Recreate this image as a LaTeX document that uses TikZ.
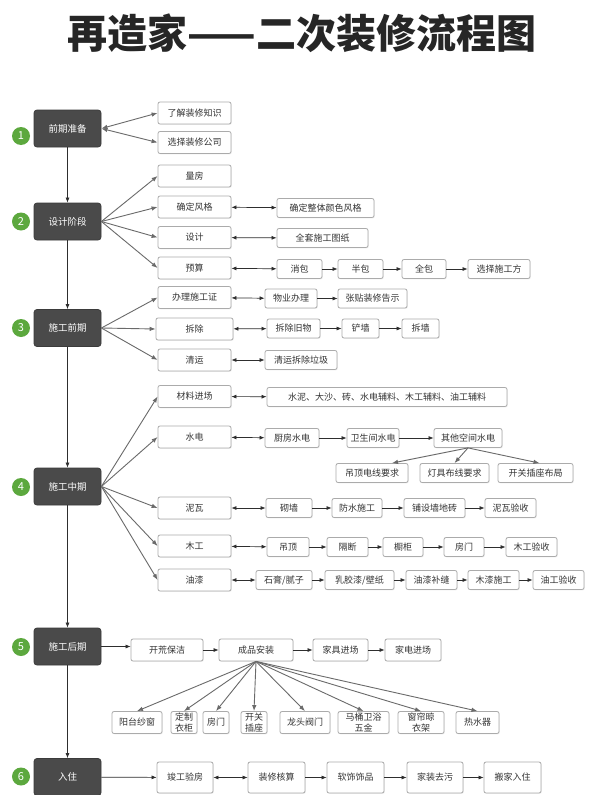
\documentclass[tikz,border=0pt]{standalone}
\usepackage{fontspec}
\setmainfont{Noto Sans CJK SC}
\usetikzlibrary{arrows.meta, calc, shadows}
\definecolor{cdark}{HTML}{4A4A4A}
\definecolor{cgreen}{HTML}{5CA83E}
\definecolor{cgrey}{HTML}{ABABAB}
\definecolor{cline}{HTML}{2E2E2E}
\definecolor{cfan}{HTML}{6A6A6A}
\definecolor{ctext}{HTML}{333333}
\tikzset{
  every picture/.style={line width=0.8pt},
  stage/.style={draw=cdark!80!black, fill=cdark, rounded corners=3pt, text=white, minimum width=67pt, minimum height=37pt, font=\fontsize{9.5}{11}\selectfont},
  num/.style={circle, fill=cgreen, text=white, minimum size=18pt, inner sep=0pt, font=\fontsize{11}{12}\selectfont},
  item/.style={draw=cgrey, fill=white, rounded corners=2pt, align=center, inner sep=1pt, minimum width=#1, minimum height=19pt, text=ctext, font=\fontsize{9}{10.5}\selectfont, drop shadow={opacity=0.12, shadow xshift=0.8pt, shadow yshift=-0.8pt}},
  item/.default=50pt,
  first/.style={item=#1, minimum height=22pt},
  first/.default=73pt,
  arrow/.style={-{Latex[length=5pt, width=4pt]}, draw=cline, line width=0.7pt},
  both/.style={{Latex[length=5pt, width=4pt]}-{Latex[length=5pt, width=4pt]}, draw=cline, line width=0.7pt},
  fan/.style={-{Latex[length=6pt, width=4.5pt]}, draw=cfan, line width=0.9pt},
  title/.style={font=\fontsize{40}{46}\selectfont\bfseries, text=black!85},
}

\begin{document}
\begin{tikzpicture}[x=1pt, y=-1pt]
  \fill[white] (0,0) rectangle (598,795);
  \useasboundingbox (0,0) rectangle (598,795);
  \node[title] (ttl) at (302,33) {再造家——二次装修流程图};
  % stage column on the left
  \node[stage] (s1) at (67.5,128.5) {前期准备};
  \node[stage] (s2) at (67.5,221.5) {设计阶段};
  \node[stage] (s3) at (67.5,328) {施工前期};
  \node[stage] (s4) at (67.5,486.5) {施工中期};
  \node[stage] (s5) at (67.5,646.5) {施工后期};
  \node[stage] (s6) at (67.5,777) {入住};
  \node[num] (n1) at (21,136) {1};
  \node[num] (n2) at (21,221.5) {2};
  \node[num] (n3) at (21,328) {3};
  \node[num] (n4) at (21,487) {4};
  \node[num] (n5) at (21,647) {5};
  \node[num] (n6) at (21,776.5) {6};
  \draw[arrow] (s1) -- (s2);
  \draw[arrow] (s2) -- (s3);
  \draw[arrow] (s3) -- (s4);
  \draw[arrow] (s4) -- (s5);
  \draw[arrow] (s5) -- (s6);
  % 1: preparation
  \node[first] (a1) at (194.5,113) {了解装修知识};
  \node[first] (a2) at (194.5,142.5) {选择装修公司};
  \draw[fan, {Latex[length=6pt, width=4.5pt]}-{Latex[length=6pt, width=4.5pt]}] (s1.east) -- (a1.west);
  \draw[fan, {Latex[length=6pt, width=4.5pt]}-{Latex[length=6pt, width=4.5pt]}] (s1.east) -- (a2.west);
  % 2: design
  \node[first] (b1) at (194.5,176) {量房};
  \node[first] (b2) at (194.5,207) {确定风格};
  \node[first] (b3) at (194.5,237.5) {设计};
  \node[first] (b4) at (194.5,268) {预算};
  \foreach \t in {b1,b2,b3,b4} \draw[fan] (s2.east) -- (\t.west);
  \node[item=97pt] (b2a) at (325.5,208) {确定整体颜色风格};
  \node[item=91pt] (b3a) at (322.5,238) {全套施工图纸};
  \node[item=45pt] (b4a) at (299.5,269) {消包};
  \node[item=45pt] (b4b) at (360.5,269) {半包};
  \node[item=44pt] (b4c) at (424,269) {全包};
  \node[item=62pt] (b4d) at (499,269) {选择施工方};
  \draw[both] (b2) -- (b2a);
  \draw[both] (b3) -- (b3a);
  \draw[both] (b4) -- (b4a);
  \draw[arrow] (b4a) -- (b4b);
  \draw[arrow] (b4b) -- (b4c);
  \draw[arrow] (b4c) -- (b4d);
  % 3: before building
  \node[first] (c1) at (194.5,297.5) {办理施工证};
  \node[first=77pt] (c2) at (194.5,329) {拆除};
  \node[first] (c3) at (194.5,360) {清运};
  \foreach \t in {c1,c2,c3} \draw[fan] (s3.east) -- (\t.west);
  \node[item=52pt] (c1a) at (291,298.5) {物业办理};
  \node[item=69pt] (c1b) at (372.5,298.5) {张贴装修告示};
  \node[item=53pt] (c2a) at (293.5,328.5) {拆除旧物};
  \node[item=37pt] (c2b) at (360.5,328.5) {铲墙};
  \node[item=37pt] (c2c) at (420.5,328.5) {拆墙};
  \node[item=72pt] (c3a) at (301,360) {清运拆除垃圾};
  \draw[both] (c1) -- (c1a);
  \draw[arrow] (c1a) -- (c1b);
  \draw[both] (c2) -- (c2a);
  \draw[arrow] (c2a) -- (c2b);
  \draw[arrow] (c2b) -- (c2c);
  \draw[both] (c3) -- (c3a);
  % 4: main building work
  \node[first] (d1) at (194.5,396.5) {材料进场};
  \node[first] (d2) at (194.5,437) {水电};
  \node[first] (d3) at (194.5,508) {泥瓦};
  \node[first] (d4) at (194.5,546) {木工};
  \node[first] (d5) at (194.5,580) {油漆};
  \foreach \t in {d1,d2,d3,d4,d5} \draw[fan] (s4.east) -- (\t.west);
  \node[item=240pt] (d1a) at (387,397) {水泥、大沙、砖、水电辅料、木工辅料、油工辅料};
  \node[item=54pt] (d2a) at (292,438) {厨房水电};
  \node[item=52pt] (d2b) at (373,438) {卫生间水电};
  \node[item=68pt] (d2c) at (468,438) {其他空间水电};
  \node[item=72pt] (d2d) at (372,473) {吊顶电线要求};
  \node[item=69pt] (d2e) at (454.5,473) {灯具布线要求};
  \node[item=75pt] (d2f) at (535.5,473) {开关插座布局};
  \node[item=46pt] (d3a) at (289,508) {砌墙};
  \node[item=50pt] (d3b) at (357,508) {防水施工};
  \node[item=61pt] (d3c) at (434.5,508) {铺设墙地砖};
  \node[item=51pt] (d3d) at (510.5,508) {泥瓦验收};
  \node[item=42pt] (d4a) at (288,547) {吊顶};
  \node[item=41pt] (d4b) at (347.5,547) {隔断};
  \node[item=40pt] (d4c) at (403,547) {橱柜};
  \node[item=40pt] (d4d) at (464,547) {房门};
  \node[item=51pt] (d4e) at (531.5,547) {木工验收};
  \node[item=56pt] (d5a) at (284,580) {石膏/腻子};
  \node[item=69pt] (d5b) at (359.5,580) {乳胶漆/壁纸};
  \node[item=51pt] (d5c) at (431.5,580) {油漆补缝};
  \node[item=51pt] (d5d) at (493.5,580) {木漆施工};
  \node[item=51pt] (d5e) at (558.5,580) {油工验收};
  \draw[both] (d1) -- (d1a);
  \draw[both] (d2) -- (d2a);
  \draw[arrow] (d2a) -- (d2b);
  \draw[arrow] (d2b) -- (d2c);
  \draw[fan] (d2c.south) -- ($(d2d.north)+(20,0)$);
  \draw[fan] (d2c.south) -- (d2e.north);
  \draw[fan] (d2c.south) -- ($(d2f.north)+(4,0)$);
  \draw[both] (d3) -- (d3a);
  \draw[arrow] (d3a) -- (d3b);
  \draw[arrow] (d3b) -- (d3c);
  \draw[arrow] (d3c) -- (d3d);
  \draw[both] (d4) -- (d4a);
  \draw[arrow] (d4a) -- (d4b);
  \draw[arrow] (d4b) -- (d4c);
  \draw[arrow] (d4c) -- (d4d);
  \draw[arrow] (d4d) -- (d4e);
  \draw[both] (d5) -- (d5a);
  \draw[arrow] (d5a) -- (d5b);
  \draw[arrow] (d5b) -- (d5c);
  \draw[arrow] (d5c) -- (d5d);
  \draw[arrow] (d5d) -- (d5e);
  % 5: finishing
  \node[first=72pt] (e1) at (167,650) {开荒保洁};
  \node[first=74pt] (e2) at (256,650) {成品安装};
  \node[first=55pt] (e3) at (340.5,650) {家具进场};
  \node[first=56pt] (e4) at (413,650) {家电进场};
  \draw[arrow] (s5.east) -- (e1.west |- s5.east);
  \draw[arrow] (e1) -- (e2);
  \draw[arrow] (e2) -- (e3);
  \draw[arrow] (e3) -- (e4);
  \node[first=50pt] (f1) at (137,722.5) {阳台纱窗};
  \node[first=26pt] (f2) at (184,722.5) {定制\\衣柜};
  \node[first=26pt] (f3) at (216,722.5) {房门};
  \node[first=26pt] (f4) at (254,722.5) {开关\\插座};
  \node[first=50pt] (f5) at (305,722.5) {龙头阀门};
  \node[first=51pt] (f6) at (363.5,722.5) {马桶卫浴\\五金};
  \node[first=46pt] (f7) at (421,722.5) {窗帘晾\\衣架};
  \node[first=43pt] (f8) at (477.5,722.5) {热水器};
  \foreach \t in {f1,f2,f3,f4,f5,f6,f7,f8} \draw[fan] (e2.south) -- (\t.north);
  % 6: moving in
  \node[first=56pt, minimum height=31pt] (g1) at (185,777.5) {竣工验房};
  \node[first=57pt, minimum height=31pt] (g2) at (276.5,777.5) {装修核算};
  \node[first=57pt, minimum height=31pt] (g3) at (355.5,777.5) {软饰饰品};
  \node[first=56pt, minimum height=31pt] (g4) at (435,777.5) {家装去污};
  \node[first=57pt, minimum height=31pt] (g5) at (512.5,777.5) {搬家入住};
  \draw[arrow] (s6) -- (g1);
  \draw[both] (g1) -- (g2);
  \draw[arrow] (g2) -- (g3);
  \draw[arrow] (g3) -- (g4);
  \draw[arrow] (g4) -- (g5);
\end{tikzpicture}
\end{document}
